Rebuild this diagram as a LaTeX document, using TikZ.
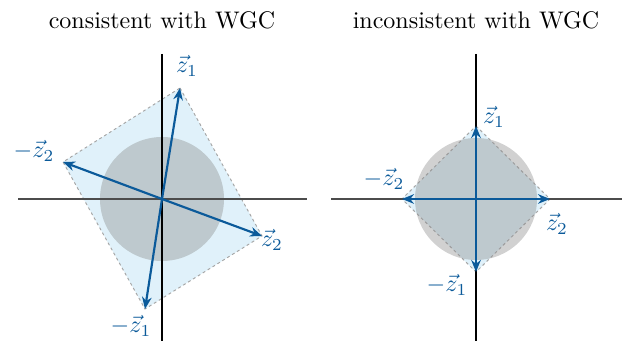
\documentclass[tikz,border=0pt]{standalone}
\usetikzlibrary{arrows.meta}
\definecolor{vblue}{HTML}{0B5A9A}
\definecolor{rlight}{HTML}{D8EEF9}
\begin{document}
\begin{tikzpicture}[x={(0.4167pt,0)},y={(0,-0.4167pt)},
  haxis/.style={draw=black!70,line width=0.5pt},
  vaxis/.style={draw=black,line width=0.9pt},
  region/.style={fill=rlight,fill opacity=0.8,draw=black!35,dashed,dash pattern=on 1.2pt off 1.2pt,line width=0.4pt},
  disc/.style={fill=black!45,fill opacity=0.4,draw=none},
  vec/.style={draw=vblue,line width=0.9pt,-{Stealth[length=5pt,width=4pt]}},
  vlab/.style={text=vblue,inner sep=1pt,font=\normalsize},
  title/.style={font=\normalsize}]
\useasboundingbox (0,0) rectangle (624,341);
% titles
\node[title] (t1) at (162,20) {consistent with WGC};
\node[title] (t2) at (476,20) {inconsistent with WGC};
% ---------- left panel ----------
\coordinate (o1) at (162,199);
\coordinate (a1) at (180,88);
\coordinate (b1) at (262,236);
\coordinate (c1) at (145,309);
\coordinate (d1) at (63,162);
\path[region] (a1) -- (b1) -- (c1) -- (d1) -- cycle;
\fill[disc] (o1) circle (62);
\coordinate (hl1) at (18,199); \coordinate (hr1) at (307,199);
\coordinate (vt1) at (162,54); \coordinate (vb1) at (162,341);
\draw[haxis] (hl1) -- (hr1);
\draw[vaxis] (vt1) -- (vb1);
\draw[vec] (o1) -- (a1);
\draw[vec] (o1) -- (b1);
\draw[vec] (o1) -- (c1);
\draw[vec] (o1) -- (d1);
\node[vlab] (la1) at (187,66) {$\vec{z}_1$};
\node[vlab] (lb1) at (272,240) {$\vec{z}_2$};
\node[vlab] (lc1) at (131,326) {$-\vec{z}_1$};
\node[vlab] (ld1) at (34,151) {$-\vec{z}_2$};
% ---------- right panel ----------
\coordinate (o2) at (476,199);
\coordinate (a2) at (476,126);
\coordinate (b2) at (550,199);
\coordinate (c2) at (476,272);
\coordinate (d2) at (402,199);
\path[region] (a2) -- (b2) -- (c2) -- (d2) -- cycle;
\fill[disc] (o2) circle (61);
\coordinate (hl2) at (331,199); \coordinate (hr2) at (622,199);
\coordinate (vt2) at (476,54); \coordinate (vb2) at (476,341);
\draw[haxis] (hl2) -- (hr2);
\draw[vaxis] (vt2) -- (vb2);
\draw[vec] (o2) -- (a2);
\draw[vec] (o2) -- (b2);
\draw[vec] (o2) -- (c2);
\draw[vec] (o2) -- (d2);
\node[vlab] (la2) at (494,117) {$\vec{z}_1$};
\node[vlab] (lb2) at (557,224) {$\vec{z}_2$};
\node[vlab] (lc2) at (447,285) {$-\vec{z}_1$};
\node[vlab] (ld2) at (384,179) {$-\vec{z}_2$};
\end{tikzpicture}
\end{document}
